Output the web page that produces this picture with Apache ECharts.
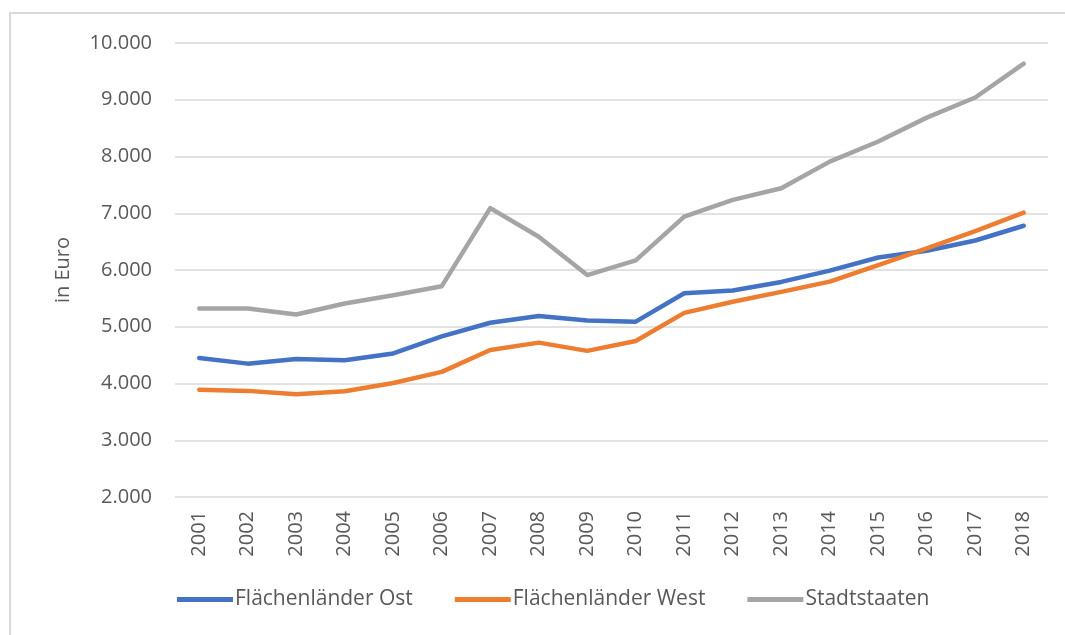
<!DOCTYPE html>
<html>
<head>
<meta charset="utf-8">
<script src="https://cdn.jsdelivr.net/npm/echarts@6/dist/echarts.min.js"></script>
<style>
  html, body { margin: 0; padding: 0; background: #fff; }
  #chart { width: 1065px; height: 635px; }
</style>
</head>
<body>
<div id="chart"></div>
<script>
const years = ['2001', '2002', '2003', '2004', '2005', '2006', '2007', '2008', '2009',
  '2010', '2011', '2012', '2013', '2014', '2015', '2016', '2017', '2018']
const seriesNames = ['Flächenländer Ost', 'Flächenländer West', 'Stadtstaaten']
const ost = [4450, 4350, 4430, 4410, 4530, 4830, 5070, 5190, 5110,
  5090, 5590, 5640, 5790, 5990, 6220, 6340, 6520, 6780]
const west = [3890, 3870, 3810, 3865, 4010, 4205, 4590, 4720, 4575,
  4750, 5245, 5440, 5615, 5795, 6085, 6380, 6685, 7010]
const stadt = [5320, 5320, 5215, 5410, 5555, 5715, 7090, 6585, 5910,
  6170, 6940, 7235, 7440, 7910, 8265, 8685, 9040, 9635]
const colors = ['#4472C4', '#ED7D31', '#A5A5A5']

const fontFamily = '"Open Sans", "Liberation Sans", sans-serif'
const labelColor = '#595959'
const chart = echarts.init(document.getElementById('chart'))

// 10000 -> 10.000
function fmt(v) {
  return String(v).replace(/\B(?=(\d{3})+(?!\d))/g, '.')
}

chart.setOption({
  animation: false,
  color: colors,
  textStyle: { fontFamily: fontFamily },
  graphic: [{
    type: 'rect',
    shape: { x: 10, y: 13, width: 1100, height: 700 },
    style: { fill: 'none', stroke: '#d9d9d9', lineWidth: 2 },
    silent: true
  }],
  grid: {
    left: 175,
    right: 17,
    top: 43,
    bottom: 138
  },
  legend: {
    bottom: 20,
    left: 172,
    icon: 'rect',
    itemWidth: 56,
    itemHeight: 5,
    itemGap: 42,
    textStyle: {
      color: labelColor,
      fontSize: 21,
      fontFamily: fontFamily,
      padding: [0, 0, 0, -3]
    },
    data: seriesNames
  },
  xAxis: {
    type: 'category',
    data: years,
    boundaryGap: true,
    axisLine: { show: false },
    axisTick: { show: false },
    axisLabel: {
      rotate: 90,
      color: labelColor,
      fontSize: 20,
      margin: 14
    }
  },
  yAxis: {
    type: 'value',
    min: 2000,
    max: 10000,
    interval: 1000,
    name: 'in Euro',
    nameLocation: 'middle',
    nameGap: 102,
    nameTextStyle: { color: labelColor, fontSize: 20 },
    axisLine: { show: false },
    axisTick: { show: false },
    splitLine: { lineStyle: { color: '#d9d9d9', width: 1.5 } },
    axisLabel: {
      color: labelColor,
      fontSize: 20,
      margin: 23,
      formatter: fmt
    }
  },
  series: [
    { name: seriesNames[0], type: 'line', data: ost },
    { name: seriesNames[1], type: 'line', data: west },
    { name: seriesNames[2], type: 'line', data: stadt }
  ].map(s => Object.assign(s, {
    symbol: 'none',
    lineStyle: { width: 4.5, join: 'round', cap: 'round' }
  }))
})
</script>
</body>
</html>
